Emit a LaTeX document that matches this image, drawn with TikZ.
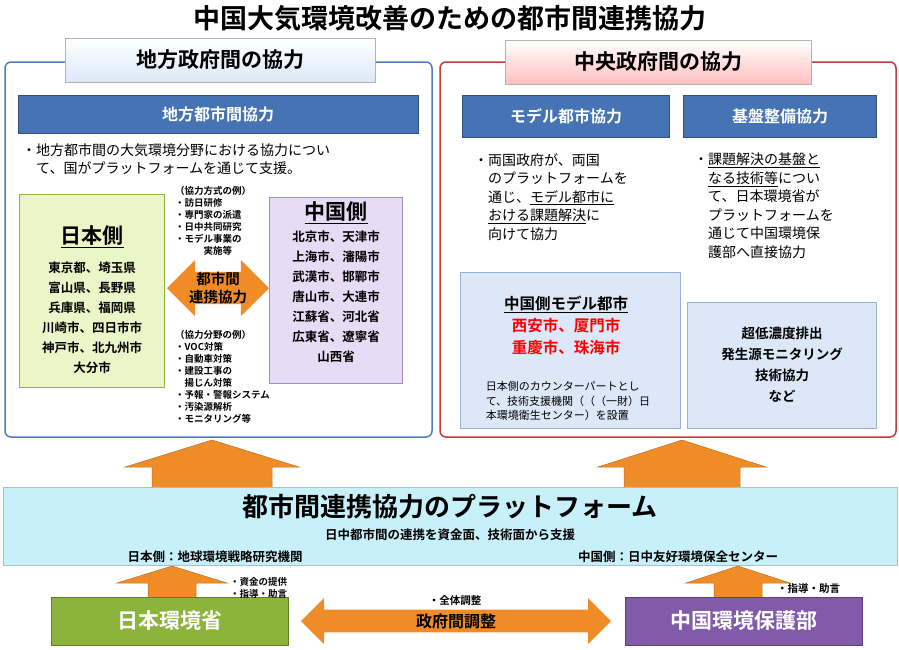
\documentclass[tikz,border=0pt]{standalone}
\usepackage{fontspec}
\setmainfont{Noto Sans CJK JP}
\newfontfamily\jb{Noto Sans CJK JP Bold}
\usetikzlibrary{shapes.arrows}
\definecolor{hdrblue}{RGB}{70,115,180}
\definecolor{frameblue}{RGB}{80,125,190}
\definecolor{framered}{RGB}{190,60,60}
\definecolor{orng}{RGB}{240,140,40}
\definecolor{jgreen}{RGB}{235,245,200}
\definecolor{cpurple}{RGB}{230,220,245}
\definecolor{lblue}{RGB}{220,232,248}
\definecolor{plat}{RGB}{200,240,250}
\definecolor{mgreen}{RGB}{140,180,60}
\definecolor{mpurple}{RGB}{130,90,170}
\tikzset{
 frame/.style={draw,line width=1.5pt,rounded corners=6pt},
 tab/.style={draw=gray!60,line width=0.6pt,font=\jb\fontsize{21}{23}\selectfont,inner sep=0pt},
 bar/.style={fill=hdrblue,draw=hdrblue!70!black,text=white,font=\jb\fontsize{16}{18}\selectfont,inner sep=0pt},
 txt/.style={align=left,font=\fontsize{14}{18.5}\selectfont,inner sep=0pt,anchor=north west},
 small/.style={align=left,font=\jb\fontsize{9.5}{12}\selectfont,inner sep=0pt,anchor=north west},
 lst/.style={align=center,font=\jb\fontsize{12.5}{20}\selectfont,inner sep=0pt},
 uparrow/.style={fill=orng,draw=orng!80!black,line width=0.5pt},
}
% #1 center x, #2 base y, #3 tip y, #4 head half width, #5 shaft half width, #6 head height
\newcommand\myuparrow[6]{\fill[uparrow] (#1-#5,#2) -- (#1-#5,#3+#6) -- (#1-#4,#3+#6) -- (#1,#3) -- (#1+#4,#3+#6) -- (#1+#5,#3+#6) -- (#1+#5,#2) -- cycle;}
\begin{document}
\begin{tikzpicture}[x=1pt,y=-1pt]
\useasboundingbox (0,0) rectangle (899,649);
\node (title) at (450,18) {\jb\fontsize{27}{29}\selectfont 中国大気環境改善のための都市間連携協力};
% frames
\draw[frame,draw=frameblue,fill=white] (5,62) rectangle (432,437);
\draw[frame,draw=framered,fill=white] (440,62) rectangle (896,437);
\node[tab,top color=white,bottom color=lblue,minimum width=310,minimum height=44] (ltab) at (220,60) {地方政府間の協力};
\node[tab,top color=white,bottom color=red!25,minimum width=306,minimum height=44] (rtab) at (658,62) {中央政府間の協力};
% left
\node[bar,minimum width=400,minimum height=38] (lbar) at (218,114) {地方都市間協力};
\node[txt] (ltxt) at (22,143) {・地方都市間の大気環境分野における協力につい\\　て、国がプラットフォームを通じて支援。};
\node[draw=mgreen,fill=jgreen,minimum width=145,minimum height=193,inner sep=0pt] (jbox) at (92,291) {};
\node (jt) at (92,237) {\jb\fontsize{21}{23}\selectfont\underline{日本側}};
\node[lst] (jl) at (92,318) {東京都、埼玉県\\富山県、長野県\\兵庫県、福岡県\\川崎市、四日市市\\神戸市、北九州市\\大分市};
\node[draw=mpurple!70,fill=cpurple,minimum width=133,minimum height=186,inner sep=0pt] (cbox) at (336,290) {};
\node (ct) at (336,213) {\jb\fontsize{21}{23}\selectfont\underline{中国側}};
\node[lst] (cl) at (336,297) {北京市、天津市\\上海市、瀋陽市\\武漢市、邯鄲市\\唐山市、大連市\\江蘇省、河北省\\広東省、遼寧省\\山西省};
\node[fill=orng,double arrow,double arrow head extend=12pt,minimum width=54,minimum height=102,inner sep=0pt,align=center,font=\jb\fontsize{14.5}{18}\selectfont] (mid) at (218,288) {都市間\\連携協力};
\node[small] (ex1) at (175,186) {（協力方式の例）\\・訪日研修\\・専門家の派遣\\・日中共同研究\\・モデル事業の\\　　　実施等};
\node[small] (ex2) at (175,330) {（協力分野の例）\\・VOC対策\\・自動車対策\\・建設工事の\\　揚じん対策\\・予報・警報システム\\・汚染源解析\\・モニタリング等};
% right
\node[bar,minimum width=207,minimum height=42] (mbar) at (566,116) {モデル都市協力};
\node[bar,minimum width=193,minimum height=42] (kbar) at (780,116) {基盤整備協力};
\node[txt] (mtxt) at (474,153) {・両国政府が、両国\\　のプラットフォームを\\　通じ、\underline{モデル都市に}\\　\underline{おける課題解決}に\\　向けて協力};
\node[txt] (ktxt) at (694,153) {・\underline{課題解決の基盤と}\\　\underline{なる技術等}につい\\　て、日本環境省が\\　プラットフォームを\\　通じて中国環境保\\　護部へ直接協力};
\node[draw=frameblue!60,fill=lblue,minimum width=220,minimum height=156,inner sep=0pt] (mbox) at (570,350) {};
\node[align=center,inner sep=0pt,font=\jb\fontsize{15.5}{22}\selectfont] (mt) at (566,325) {\underline{中国側モデル都市}\\\textcolor{red}{西安市、厦門市}\\\textcolor{red}{重慶市、珠海市}};
\node[align=left,inner sep=0pt,font=\fontsize{11}{14.5}\selectfont] (mn) at (568,401) {日本側のカウンターパートとし\\て、技術支援機関（（（一財）日\\本環境衛生センター）を設置};
\node[draw=frameblue!60,fill=lblue,minimum width=189,minimum height=126,inner sep=0pt] (kbox) at (782,365) {};
\node[align=center,inner sep=0pt,font=\jb\fontsize{13.5}{21}\selectfont] (kt) at (782,365) {超低濃度排出\\発生源モニタリング\\技術協力\\など};
% platform
\myuparrow{212}{490}{440}{87}{60}{27}
\myuparrow{682}{490}{440}{84}{58}{27}
\node[draw=frameblue!50,fill=plat,minimum width=894,minimum height=78,inner sep=0pt] (pf) at (450,526) {};
\node (pft) at (450,507) {\jb\fontsize{26}{28}\selectfont 都市間連携協力のプラットフォーム};
\node[font=\jb\fontsize{12.5}{14}\selectfont] (pf1) at (450,535) {日中都市間の連携を資金面、技術面から支援};
\node[font=\jb\fontsize{12.5}{14}\selectfont] (pf2) at (215,557) {日本側：地球環境戦略研究機関};
\node[font=\jb\fontsize{12.5}{14}\selectfont] (pf3) at (678,557) {中国側：日中友好環境保全センター};
% bottom
\myuparrow{172}{600}{566}{55}{24}{17}
\myuparrow{738}{600}{566}{52}{24}{17}
\node[fill=mgreen,draw=mgreen!70!black,minimum width=237,minimum height=48,text=white,font=\jb\fontsize{21}{23}\selectfont] (jm) at (170,621) {日本環境省};
\node[fill=mpurple,draw=mpurple!70!black,minimum width=237,minimum height=48,text=white,font=\jb\fontsize{21}{23}\selectfont] (cm) at (744,621) {中国環境保護部};
\node[small] (s1) at (230,577) {・資金の提供\\・指導・助言};
\node[small,font=\jb\fontsize{10.5}{12}\selectfont] (s2) at (777,583) {・指導・助言};
\node[fill=orng,double arrow,double arrow head extend=8pt,minimum width=46,minimum height=310,inner sep=0pt,font=\jb\fontsize{16}{18}\selectfont] (ga) at (456,621) {政府間調整};
\node[font=\jb\fontsize{10.5}{12}\selectfont] (ga1) at (455,601) {・全体調整};
\end{tikzpicture}
\end{document}
